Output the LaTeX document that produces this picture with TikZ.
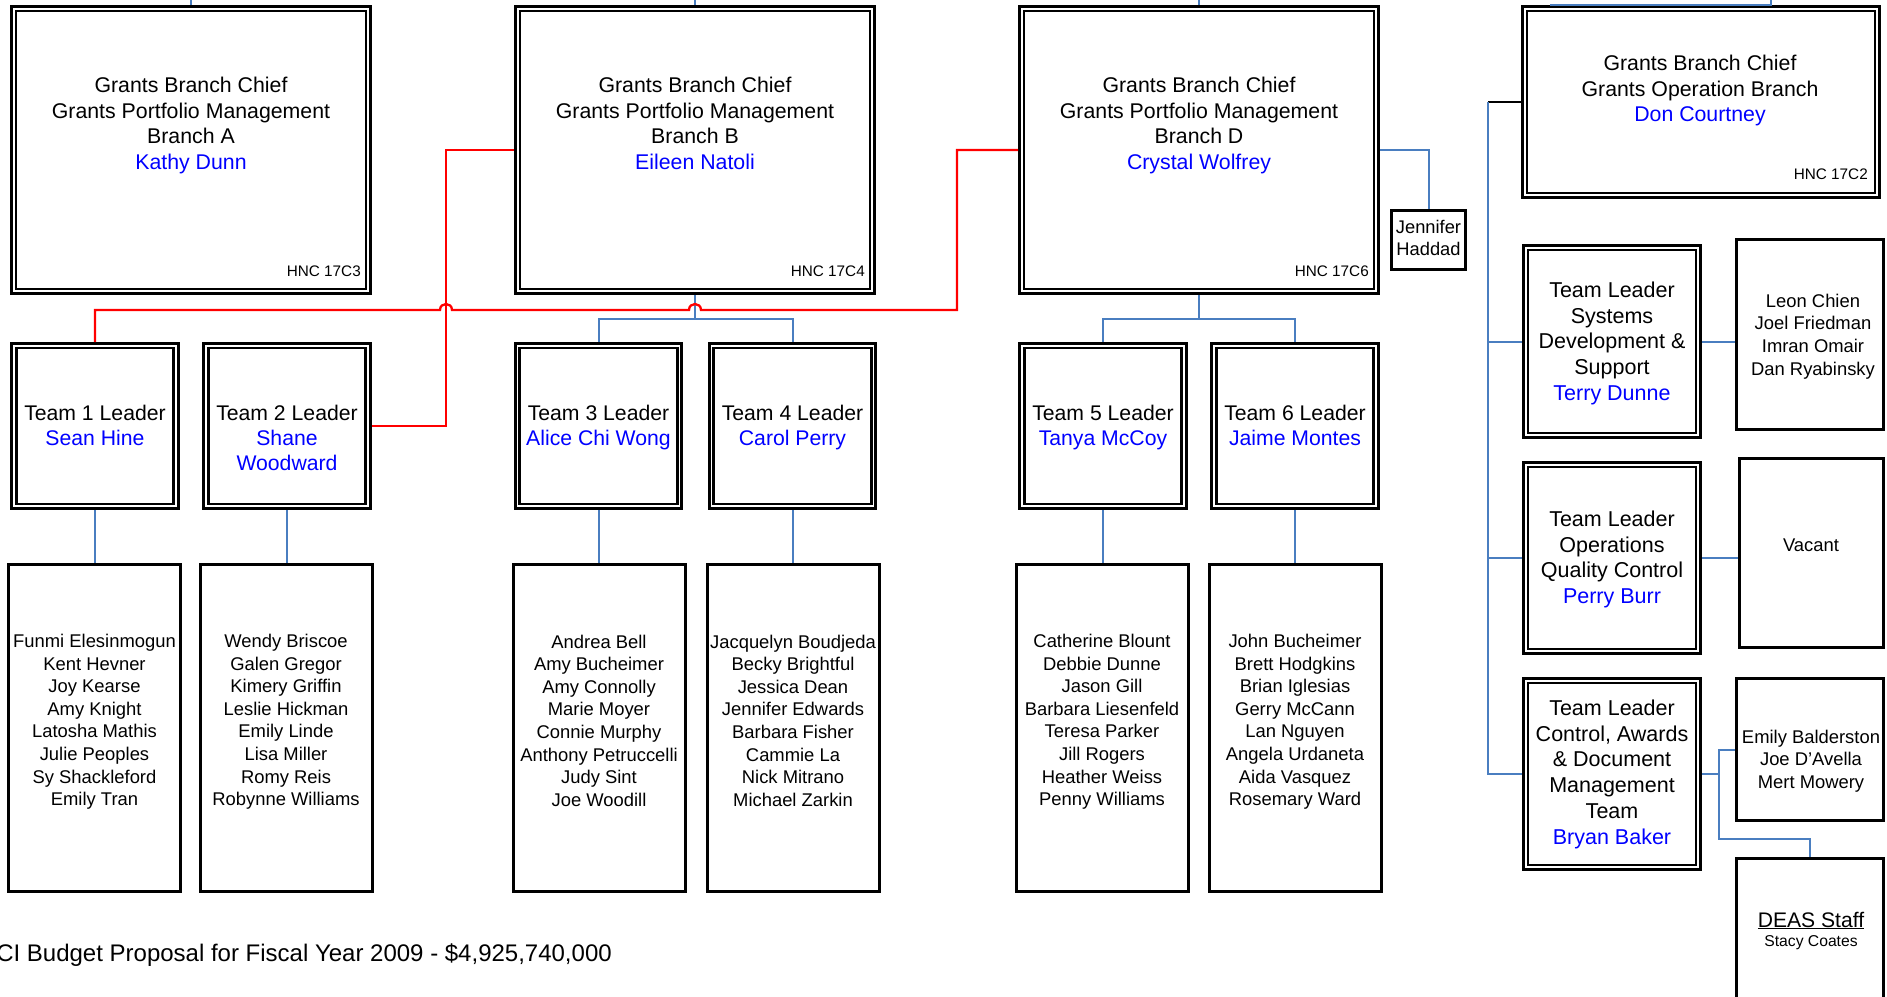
\documentclass[tikz,border=0pt]{standalone}
\usepackage{fontspec}
\setmainfont{Liberation Sans}
\usetikzlibrary{calc}
\definecolor{nameblue}{RGB}{0,0,255}
\definecolor{linkblue}{RGB}{74,126,192}
\definecolor{linkred}{RGB}{255,0,0}
\begin{document}
\begin{tikzpicture}[x=1pt,y=-1pt,
  dbox/.style={draw, line width=2.8pt, double=white, double distance=1.8pt, outer sep=3.7pt, inner sep=0pt},
  sbox/.style={draw, line width=3pt, inner sep=0pt},
  txt/.style={anchor=north, inner sep=0pt, align=center},
  brtxt/.style={txt, font=\fontsize{21.3}{25.7}\selectfont},
  tltxt/.style={txt, font=\fontsize{21.2}{25}\selectfont},
  rttxt/.style={txt, font=\fontsize{21.5}{25.75}\selectfont},
  sttxt/.style={txt, font=\fontsize{18.4}{22.6}\selectfont},
  hnc/.style={anchor=base east, inner sep=0pt, font=\fontsize{15.3}{18}\selectfont},
  bl/.style={draw=linkblue, line width=2pt},
  rd/.style={draw=linkred, line width=2.3pt},
  branchbox/.style={dbox, minimum width=354.6pt, minimum height=282.6pt},
  teambox/.style={dbox, minimum width=162pt, minimum height=160.6pt},
  staffbox/.style={sbox, minimum width=172pt, minimum height=327pt},
  nm/.style={text=nameblue}
]
\useasboundingbox (0,0) rectangle (1887,996);
\fill[white] (0,0) rectangle (1887,996);

% ---------- branch boxes ----------
\node[branchbox] (bA) at (191,150) {};
\node[branchbox] (bB) at (695,150) {};
\node[branchbox] (bD) at (1199,150) {};
\node[dbox, minimum width=352.6pt, minimum height=186.6pt] (bO) at (1701,102) {};

\node[brtxt] (bAt) at (191,76.7) {Grants Branch Chief\\Grants Portfolio Management\\Branch A\\\textcolor{nameblue}{Kathy Dunn}};
\node[brtxt] (bBt) at (695,76.7) {Grants Branch Chief\\Grants Portfolio Management\\Branch B\\\textcolor{nameblue}{Eileen Natoli}};
\node[brtxt] (bDt) at (1199,76.7) {Grants Branch Chief\\Grants Portfolio Management\\Branch D\\\textcolor{nameblue}{Crystal Wolfrey}};
\node[brtxt] (bOt) at (1700,54.7) {Grants Branch Chief\\Grants Operation Branch\\\textcolor{nameblue}{Don Courtney}};

\node[hnc] (hA) at (361,276) {HNC 17C3};
\node[hnc] (hB) at (865,276) {HNC 17C4};
\node[hnc] (hD) at (1369,276) {HNC 17C6};
\node[hnc] (hO) at (1868,179) {HNC 17C2};

% ---------- Jennifer Haddad ----------
\node[sbox, minimum width=74pt, minimum height=59pt] (jh) at (1428.5,240) {};
\node[txt, font=\fontsize{18.3}{22}\selectfont] (jht) at (1428.5,219.8) {Jennifer\\Haddad};

% ---------- team leader boxes ----------
\node[teambox] (t1) at (95,426) {};
\node[teambox] (t2) at (287,426) {};
\node[teambox] (t3) at (598.5,426) {};
\node[teambox] (t4) at (792.5,426) {};
\node[teambox] (t5) at (1103,426) {};
\node[teambox] (t6) at (1295,426) {};

\node[tltxt] (t1t) at (95,404.7) {Team 1 Leader\\\textcolor{nameblue}{Sean Hine}};
\node[tltxt] (t2t) at (287,404.7) {Team 2 Leader\\\textcolor{nameblue}{Shane}\\\textcolor{nameblue}{Woodward}};
\node[tltxt] (t3t) at (598.5,404.7) {Team 3 Leader\\\textcolor{nameblue}{Alice Chi Wong}};
\node[tltxt] (t4t) at (792.5,404.7) {Team 4 Leader\\\textcolor{nameblue}{Carol Perry}};
\node[tltxt] (t5t) at (1103,404.7) {Team 5 Leader\\\textcolor{nameblue}{Tanya McCoy}};
\node[tltxt] (t6t) at (1295,404.7) {Team 6 Leader\\\textcolor{nameblue}{Jaime Montes}};

% ---------- staff boxes ----------
\node[staffbox] (s1) at (94.5,728) {};
\node[staffbox] (s2) at (286,728) {};
\node[staffbox] (s3) at (599,728) {};
\node[staffbox] (s4) at (793.5,728) {};
\node[staffbox] (s5) at (1102.5,728) {};
\node[staffbox] (s6) at (1295.5,728) {};

\node[sttxt] (s1t) at (94.5,634) {Funmi Elesinmogun\\Kent Hevner\\Joy Kearse\\Amy Knight\\Latosha Mathis\\Julie Peoples\\Sy Shackleford\\Emily Tran};
\node[sttxt] (s2t) at (286,634) {Wendy Briscoe\\Galen Gregor\\Kimery Griffin\\Leslie Hickman\\Emily Linde\\Lisa Miller\\Romy Reis\\Robynne Williams};
\node[sttxt] (s3t) at (599,634.5) {Andrea Bell\\Amy Bucheimer\\Amy Connolly\\Marie Moyer\\Connie Murphy\\Anthony Petruccelli\\Judy Sint\\Joe Woodill};
\node[sttxt] (s4t) at (793,634.5) {Jacquelyn Boudjeda\\Becky Brightful\\Jessica Dean\\Jennifer Edwards\\Barbara Fisher\\Cammie La\\Nick Mitrano\\Michael Zarkin};
\node[sttxt] (s5t) at (1102,634) {Catherine Blount\\Debbie Dunne\\Jason Gill\\Barbara Liesenfeld\\Teresa Parker\\Jill Rogers\\Heather Weiss\\Penny Williams};
\node[sttxt] (s6t) at (1295,634) {John Bucheimer\\Brett Hodgkins\\Brian Iglesias\\Gerry McCann\\Lan Nguyen\\Angela Urdaneta\\Aida Vasquez\\Rosemary Ward};

% ---------- operations branch team leaders ----------
\node[dbox, minimum width=172.6pt, minimum height=187.6pt] (r1) at (1612,341.5) {};
\node[dbox, minimum width=172.6pt, minimum height=186.6pt] (r2) at (1612,558) {};
\node[dbox, minimum width=172.6pt, minimum height=186.6pt] (r3) at (1612,774) {};

\node[rttxt] (r1t) at (1612,281.5) {Team Leader\\Systems\\Development \&\\Support\\\textcolor{nameblue}{Terry Dunne}};
\node[rttxt] (r2t) at (1612,510.5) {Team Leader\\Operations\\Quality Control\\\textcolor{nameblue}{Perry Burr}};
\node[rttxt] (r3t) at (1612,699.5) {Team Leader\\Control, Awards\\\& Document\\Management\\Team\\\textcolor{nameblue}{Bryan Baker}};

% ---------- operations staff ----------
\node[sbox, minimum width=147pt, minimum height=190pt] (l1) at (1810,334.5) {};
\node[sbox, minimum width=144pt, minimum height=189pt] (vac) at (1811.5,553) {};
\node[sbox, minimum width=147pt, minimum height=142pt] (emb) at (1810,749.5) {};
\node[sbox, minimum width=147pt, minimum height=150pt] (deas) at (1810,933.5) {};

\node[sttxt] (l1t) at (1813,293.8) {Leon Chien\\Joel Friedman\\Imran Omair\\Dan Ryabinsky};
\node[anchor=base, inner sep=0pt, font=\fontsize{18.4}{22.6}\selectfont] (vact) at (1811,551) {Vacant};
\node[sttxt] (embt) at (1811,729.8) {Emily Balderston\\Joe D’Avella\\Mert Mowery};
\node[anchor=base, inner sep=0pt, font=\fontsize{21.1}{25}\selectfont] (deast) at (1811,927) {\underline{DEAS Staff}};
\node[anchor=base, inner sep=0pt, font=\fontsize{15.7}{19}\selectfont] (stacy) at (1811,946) {Stacy Coates};

% ---------- footer ----------
\node[anchor=base east, inner sep=0pt, font=\fontsize{24}{28}\selectfont] (foot) at (612,961) {CI Budget Proposal for Fiscal Year 2009 - \$4,925,740,000};

% ---------- blue connectors ----------
\coordinate (topA) at (191,0);
\coordinate (topB) at (695,0);
\coordinate (topD) at (1199,0);
\coordinate (topO) at (1771,0);
\coordinate (topOend) at (1550,5);
\draw[bl] (topA) -- (bA.north);
\draw[bl] (topB) -- (bB.north);
\draw[bl] (topD) -- (bD.north);
\draw[bl] (topO) |- (topOend);

\draw[bl] (bB.south) -- ++(0,24) coordinate (jB);
\draw[bl] (jB) -| (t3.north);
\draw[bl] (jB) -| (t4.north);
\draw[bl] (bD.south) -- ++(0,24) coordinate (jD);
\draw[bl] (jD) -| (t5.north);
\draw[bl] (jD) -| (t6.north);
\draw[bl] (bD.east) -| (jh.north);

\draw[bl] (t1.south) -- (t1.south |- s1.north);
\draw[bl] (t2.south) -- (t2.south |- s2.north);
\draw[bl] (t3.south) -- (t3.south |- s3.north);
\draw[bl] (t4.south) -- (t4.south |- s4.north);
\draw[bl] (t5.south) -- (t5.south |- s5.north);
\draw[bl] (t6.south) -- (t6.south |- s6.north);

\draw[black, line width=2pt] (bO.west) -- ++(-33,0) coordinate (opsJ);
\draw[bl] (opsJ) |- (r1.west);
\draw[bl] (opsJ) |- (r2.west);
\draw[bl] (opsJ) |- (r3.west);
\draw[bl] (r1.east) -- (r1.east -| l1.west);
\draw[bl] (r2.east) -- (r2.east -| vac.west);
\draw[bl] (r3.east) -- ++(17,0) coordinate (cJ);
\draw[bl] (cJ) |- (emb.west);
\draw[bl] (cJ) -- ++(0,65) -| (deas.north);

% ---------- red connectors ----------
\coordinate (rA) at (95,310);
\coordinate (rV) at (446,150);
\coordinate (rD) at (957,310);
\draw[rd] (t1.north) -- (rA) -- (440,310) .. controls (440,302) and (452,302) .. (452,310)
  -- (689,310) .. controls (689,302) and (701,302) .. (701,310) -- (rD) |- (bD.west);
\draw[rd] (t2.east) -| (rV) -- (bB.west);
\end{tikzpicture}
\end{document}
